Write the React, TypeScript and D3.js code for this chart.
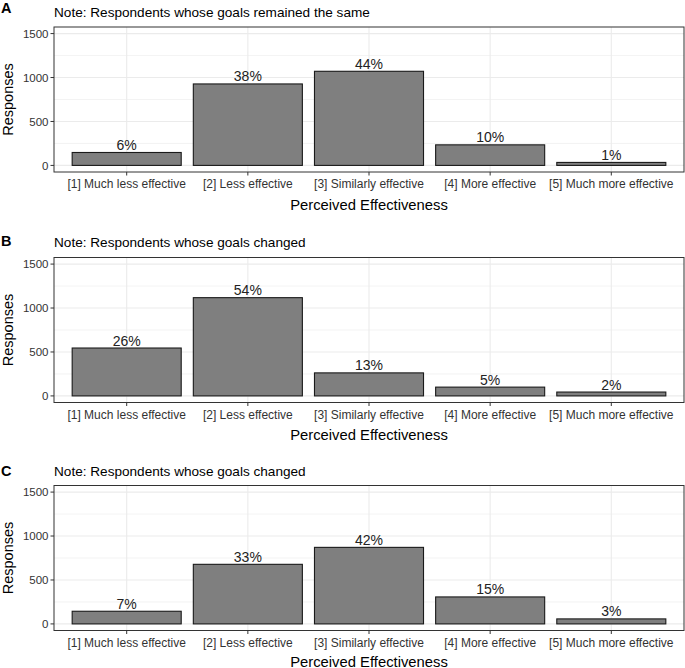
import React from "react";
import * as d3 from "d3";

const categories = [
  "[1] Much less effective",
  "[2] Less effective",
  "[3] Similarly effective",
  "[4] More effective",
  "[5] Much more effective",
];
const panelLetters = ["A", "B", "C"];
const panelNotes = [
  "Note: Respondents whose goals remained the same",
  "Note: Respondents whose goals changed",
  "Note: Respondents whose goals changed",
];
const valuesA = [147, 927, 1071, 234, 34];
const valuesB = [545, 1118, 262, 100, 44];
const valuesC = [144, 678, 871, 307, 57];
const percentA = ["6%", "38%", "44%", "10%", "1%"];
const percentB = ["26%", "54%", "13%", "5%", "2%"];
const percentC = ["7%", "33%", "42%", "15%", "3%"];
const yTicks = [0, 500, 1000, 1500];
const yMinor = [250, 750, 1250];
const xTitle = "Perceived Effectiveness";
const yTitle = "Responses";

const panelValues = [valuesA, valuesB, valuesC];
const panelPercents = [percentA, percentB, percentC];

// layout
const W = 685;
const H = 668;
const plotLeft = 54;
const plotRight = 684;
const plotH = 145;
const plotTops = [27, 257.5, 485.5];
const letterBase = [12.7, 245.7, 476];
const noteBase = [16.5, 247.3, 475.5];
const titleOffset = [37.5, 37.5, 36];
const FONT = "'Liberation Sans', Arial, Helvetica, sans-serif";

function Panel({ idx }: { idx: number }) {
  const top = plotTops[idx];
  const bottom = top + plotH;
  // ggplot-like discrete scale: category centres at 1..5, range 0.4..5.6
  const band = d3.scaleBand<string>().domain(categories).range([1, 6]);
  const xc = d3.scaleLinear().domain([0.4, 5.6]).range([plotLeft, plotRight]);
  const cx = (c: string) => xc(band(c) as number);
  const step = xc(2) - xc(1);
  const y = d3.scaleLinear().domain([-75, 1575]).range([bottom, top]);
  const vals = panelValues[idx];
  const pcts = panelPercents[idx];
  return (
    <g>
      <text x={1} y={letterBase[idx]} fontFamily={FONT} fontWeight="bold" fontSize={14.5} fill="#000">
        {panelLetters[idx]}
      </text>
      <text x={plotLeft} y={noteBase[idx]} fontFamily={FONT} fontSize={13.6} fill="#000">
        {panelNotes[idx]}
      </text>
      <rect x={plotLeft} y={top} width={plotRight - plotLeft} height={plotH} fill="#fff" />
      {yMinor.map((t) => (
        <line key={"mn" + t} x1={plotLeft} x2={plotRight} y1={y(t)} y2={y(t)} stroke="#EBEBEB" strokeWidth={0.6} />
      ))}
      {yTicks.map((t) => (
        <line key={"mj" + t} x1={plotLeft} x2={plotRight} y1={y(t)} y2={y(t)} stroke="#EBEBEB" strokeWidth={1.1} />
      ))}
      {categories.map((c) => (
        <line key={"vx" + c} x1={cx(c)} x2={cx(c)} y1={top} y2={bottom} stroke="#EBEBEB" strokeWidth={1.1} />
      ))}
      {categories.map((c, i) => (
        <rect
          key={"b" + c}
          x={cx(c) - step * 0.45}
          y={y(vals[i])}
          width={step * 0.9}
          height={y(0) - y(vals[i])}
          fill="#7F7F7F"
          stroke="#1a1a1a"
          strokeWidth={1.1}
        />
      ))}
      {categories.map((c, i) => (
        <text
          key={"p" + c}
          x={cx(c)}
          y={y(vals[i]) - 2.5}
          textAnchor="middle"
          fontFamily={FONT}
          fontSize={14}
          fill="#222"
        >
          {pcts[i]}
        </text>
      ))}
      <rect x={plotLeft} y={top} width={plotRight - plotLeft} height={plotH} fill="none" stroke="#333" strokeWidth={1} />
      {yTicks.map((t) => (
        <g key={"yt" + t}>
          <line x1={plotLeft - 3.5} x2={plotLeft} y1={y(t)} y2={y(t)} stroke="#333" strokeWidth={1} />
          <text x={plotLeft - 5.5} y={y(t)} dy="0.36em" textAnchor="end" fontFamily={FONT} fontSize={11.5} fill="#333">
            {t}
          </text>
        </g>
      ))}
      {categories.map((c) => (
        <g key={"xt" + c}>
          <line x1={cx(c)} x2={cx(c)} y1={bottom} y2={bottom + 3.5} stroke="#333" strokeWidth={1} />
          <text x={cx(c)} y={bottom + 16} textAnchor="middle" fontFamily={FONT} fontSize={12} fill="#333">
            {c}
          </text>
        </g>
      ))}
      <text
        x={(plotLeft + plotRight) / 2}
        y={bottom + titleOffset[idx]}
        textAnchor="middle"
        fontFamily={FONT}
        fontSize={14.8}
        fill="#000"
      >
        {xTitle}
      </text>
      <text
        transform={`translate(${13},${(top + bottom) / 2}) rotate(-90)`}
        textAnchor="middle"
        fontFamily={FONT}
        fontSize={14.5}
        fill="#000"
      >
        {yTitle}
      </text>
    </g>
  );
}

export default function App() {
  return (
    <svg width={W} height={H} style={{ display: "block", position: "absolute", left: 0, top: 0, background: "#fff" }}>
      <rect width={W} height={H} fill="#fff" />
      {[0, 1, 2].map((i) => (
        <Panel key={i} idx={i} />
      ))}
    </svg>
  );
}
